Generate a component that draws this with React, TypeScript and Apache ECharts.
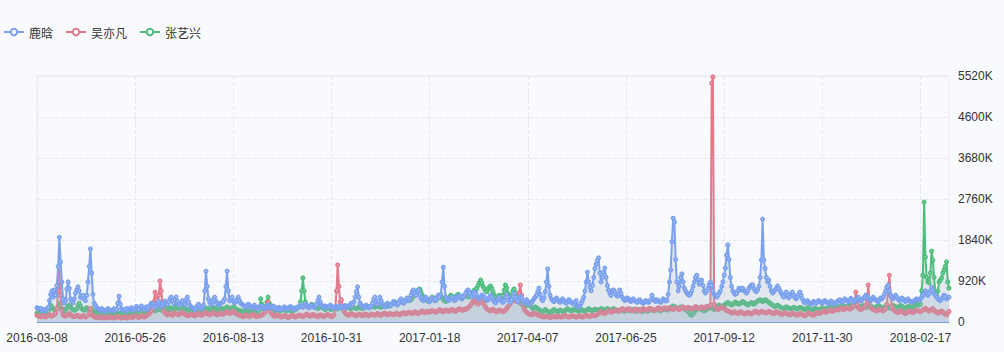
import React, { useEffect, useRef } from "react";
import * as echarts from "echarts";

// values in thousands (K)
const luhan: number[] = [
  320,300,290,310,260,280,250,270,300,330,480,620,700,560,720,
  600,820,1250,1900,1350,900,520,430,480,740,900,760,520,470,430,
  520,650,720,790,700,560,540,600,520,480,600,900,1250,1640,1100,
  620,420,380,330,300,280,260,300,280,250,240,260,300,280,260,
  250,270,300,260,280,420,580,400,300,270,250,280,300,260,290,
  300,320,280,260,300,350,310,280,330,360,300,280,310,340,290,
  330,380,420,400,360,330,380,420,460,400,350,380,430,470,420,
  400,450,520,560,480,420,500,560,470,400,380,430,480,420,390,
  500,560,450,380,340,320,300,280,320,360,400,340,300,330,380,
  700,1140,800,520,450,400,440,500,560,470,420,380,400,420,440,
  460,520,800,1140,700,480,520,560,470,430,450,500,560,480,420,
  400,380,350,330,360,400,380,340,320,350,380,330,300,320,350,
  340,360,330,300,320,350,380,340,310,330,360,340,300,280,320,
  330,300,280,310,340,320,290,300,330,350,320,300,280,310,330,
  320,350,380,360,330,350,400,370,340,320,360,380,350,330,360,
  400,480,560,450,380,350,330,360,340,320,350,380,360,330,310,
  330,350,320,340,360,330,310,340,370,350,330,360,390,420,380,
  450,560,680,790,560,420,380,350,330,360,380,350,320,340,360,
  420,500,560,450,400,460,560,480,400,360,340,380,420,390,360,
  380,420,460,440,400,380,420,480,520,460,420,450,500,540,480,
  520,600,680,720,650,600,680,720,620,540,500,480,520,560,520,
  480,460,500,540,520,480,500,560,600,560,620,900,1230,800,560,
  520,480,500,540,560,520,480,500,540,580,600,560,520,560,600,
  640,700,720,660,600,560,620,680,640,580,540,520,560,600,580,
  560,520,480,500,540,600,560,500,460,430,480,520,560,500,460,
  440,480,560,620,560,480,440,500,580,640,560,500,460,520,580,
  540,480,420,460,500,460,420,400,440,480,520,560,600,680,760,
  620,520,480,540,680,900,1190,800,600,520,480,460,500,540,500,
  460,440,480,520,480,440,420,460,500,480,440,420,400,440,480,
  360,340,380,420,480,560,700,900,1120,900,780,700,820,1000,1200,
  1300,1380,1440,1100,900,1000,1120,1210,1000,820,720,650,600,700,720,
  680,620,580,620,720,640,560,520,480,500,540,520,480,460,500,
  520,480,460,440,480,500,460,440,420,450,480,460,440,470,500,
  600,520,480,460,500,480,460,440,480,520,500,470,480,620,900,
  1170,1800,2330,2250,1400,900,700,800,1000,1080,900,760,700,650,620,
  600,640,700,800,900,1000,1050,950,850,880,940,820,700,650,700,
  760,850,900,820,700,620,580,560,600,650,700,800,900,1050,1210,
  1500,1730,1400,1000,800,700,650,620,640,700,760,720,740,760,700,
  680,650,700,760,800,830,830,750,700,680,720,800,1000,1390,2310,
  1390,1200,1000,900,940,800,700,650,680,720,760,810,760,700,650,
  600,560,620,670,600,540,580,640,670,600,550,520,560,620,670,
  600,520,460,430,450,480,440,420,400,430,460,440,420,450,480,
  460,440,420,450,480,460,430,410,440,470,450,420,400,430,460,
  480,500,460,440,470,520,500,480,460,490,530,500,470,450,480,
  520,560,500,470,490,530,560,600,580,540,500,480,520,560,520,
  500,480,460,500,540,520,560,620,700,780,830,700,600,560,520,
  560,600,560,520,480,500,540,520,480,460,500,520,480,460,440,
  460,480,500,520,500,480,520,560,600,650,700,650,600,640,700,
  780,720,640,600,560,520,500,480,520,560,600,580,520,540,560,
];

const wuyifan: number[] = [
  150,140,130,120,140,130,120,110,130,150,160,140,130,150,170,
  200,300,700,1190,600,250,160,140,130,150,170,190,160,140,130,
  120,130,150,140,120,110,130,140,120,110,130,150,200,300,180,
  140,120,110,100,110,120,100,90,110,120,100,90,100,110,120,
  110,100,90,100,120,130,110,100,90,100,110,120,100,90,110,
  120,110,100,120,140,130,110,100,120,150,130,110,120,140,160,
  180,200,240,300,450,670,500,400,600,920,700,400,250,200,180,
  160,180,200,170,150,180,210,190,170,160,180,200,220,190,170,
  160,150,140,160,180,170,150,140,160,180,200,170,150,160,180,
  200,220,190,170,160,180,200,220,190,170,160,180,200,190,170,
  180,200,220,240,210,190,200,220,240,210,190,170,160,150,140,
  130,120,140,160,150,130,120,140,160,180,150,130,120,140,150,
  140,160,180,200,240,300,450,350,220,180,150,130,140,160,150,
  140,120,110,130,150,140,120,100,110,130,150,140,120,110,130,
  140,160,150,130,120,140,160,180,160,140,130,150,170,160,140,
  130,120,140,160,150,130,120,140,160,170,150,130,120,140,160,
  300,700,1280,800,450,500,350,250,200,180,160,150,170,190,170,
  160,150,140,160,180,170,150,140,160,180,170,150,140,160,180,
  170,160,150,170,190,180,160,150,170,190,200,180,160,170,190,
  180,170,160,180,200,190,170,160,180,200,210,190,180,200,220,
  210,200,190,210,230,220,200,190,210,230,250,230,210,220,240,
  230,220,240,260,250,230,220,240,260,280,260,240,230,250,270,
  260,250,240,260,280,270,250,240,260,280,300,280,260,270,290,
  280,300,320,350,380,420,460,490,460,420,400,440,480,460,420,
  380,340,300,280,260,250,270,290,260,240,230,250,270,260,240,
  230,250,270,300,340,380,420,460,500,520,480,460,520,650,830,
  600,400,300,250,220,200,180,170,160,180,200,190,170,160,150,
  140,130,120,110,120,130,120,110,100,110,120,130,120,110,120,
  130,120,110,120,140,150,130,120,110,120,130,140,130,120,110,
  120,130,140,120,110,120,130,150,140,130,120,140,160,150,140,
  150,170,190,210,230,220,200,190,210,230,250,240,220,230,250,
  260,270,250,240,260,280,300,290,270,260,280,300,290,270,260,
  250,270,290,280,260,250,270,290,300,280,260,270,290,310,300,
  290,270,260,280,300,320,310,290,280,300,320,310,290,300,320,
  300,290,280,300,320,310,290,280,300,320,340,320,300,310,330,
  320,300,290,310,330,350,330,310,300,320,340,320,310,330,350,
  340,360,380,5360,5500,400,320,300,280,300,320,340,320,300,280,
  260,250,240,220,200,210,230,220,200,190,210,230,220,200,190,
  180,200,220,210,190,180,200,220,240,230,210,200,220,240,230,
  220,210,200,220,240,230,210,200,190,210,230,220,200,190,180,
  170,190,210,200,180,170,160,180,200,190,170,160,150,170,190,
  180,170,150,140,160,180,200,190,170,160,150,170,190,210,200,
  190,210,230,250,240,220,230,250,270,260,240,250,270,290,280,
  270,290,310,300,280,290,310,330,310,290,300,330,360,450,670,
  400,320,300,280,300,320,340,380,500,830,450,330,300,280,270,
  260,250,270,290,280,260,250,270,300,400,700,1050,600,350,280,
  260,240,220,210,230,250,240,220,200,190,210,230,250,240,220,
  210,230,250,270,260,240,230,250,270,290,310,280,260,250,270,
  280,300,260,240,220,200,210,230,250,220,200,180,160,200,240,
];

const zhangyixing: number[] = [
  200,220,210,190,200,230,250,220,210,240,300,380,340,300,280,
  260,300,350,420,380,300,260,240,280,320,360,380,340,300,280,
  260,280,300,380,420,360,300,280,260,300,320,280,260,280,300,
  260,240,220,200,210,230,220,200,190,210,200,190,200,220,210,
  200,190,210,230,220,200,190,180,200,220,210,190,180,200,220,
  210,200,220,240,230,210,200,220,250,270,240,220,230,250,240,
  230,250,280,300,270,250,260,290,310,280,260,270,300,320,290,
  280,300,320,310,290,300,330,350,320,300,310,340,360,330,300,
  290,270,260,280,300,290,270,260,280,300,320,300,280,270,260,
  270,290,310,300,280,290,310,330,310,290,280,300,320,310,290,
  280,300,320,340,310,290,300,320,340,320,300,280,270,260,250,
  240,230,250,270,260,240,230,250,270,290,260,240,230,250,270,
  520,400,300,280,350,450,560,420,320,280,260,250,270,290,280,
  260,250,270,290,280,260,250,270,280,260,250,240,260,280,300,
  320,350,450,700,990,700,450,380,340,320,350,400,380,350,330,
  320,300,330,360,340,320,300,280,300,320,310,290,280,300,320,
  310,300,290,310,330,320,300,290,310,330,340,320,300,310,330,
  320,310,300,320,340,330,310,300,320,340,350,330,320,340,360,
  350,340,330,350,370,360,340,330,350,370,380,360,350,370,390,
  380,400,420,450,430,410,430,460,490,470,450,470,500,520,500,
  480,500,540,580,620,650,700,720,740,680,600,560,520,500,480,
  460,480,520,560,540,500,480,520,560,600,580,540,500,480,460,
  480,520,560,600,580,540,520,560,600,620,580,540,520,560,600,
  620,580,560,600,640,620,680,720,700,760,820,880,940,880,800,
  760,700,680,740,780,810,760,680,600,560,520,560,600,580,540,
  600,720,830,760,640,560,520,600,700,740,660,560,500,460,420,
  400,380,360,340,380,420,400,360,330,300,320,340,320,300,280,
  260,240,220,250,280,260,240,220,200,230,260,280,260,240,230,
  250,270,260,240,230,250,280,300,280,260,250,270,290,280,260,
  250,240,260,280,270,250,240,260,280,300,280,260,250,270,290,
  280,270,260,280,300,290,270,260,280,300,290,270,260,280,300,
  290,270,250,240,260,280,270,250,240,260,280,270,250,260,280,
  270,250,240,260,280,270,250,230,250,270,260,240,250,270,290,
  280,260,250,270,290,280,260,250,270,290,300,280,270,290,310,
  320,340,360,350,330,310,300,320,340,330,310,300,280,260,240,
  200,160,150,180,220,260,280,300,320,300,280,260,250,270,290,
  300,320,340,320,300,280,300,330,360,380,360,340,360,380,400,
  420,440,420,400,380,400,420,450,430,410,400,420,440,460,440,
  420,400,380,400,420,440,420,400,420,450,470,490,500,480,460,
  480,500,490,460,440,420,400,380,360,340,360,380,360,340,320,
  310,300,320,340,330,310,300,290,310,330,320,300,290,310,330,
  320,300,290,280,300,320,310,290,280,270,290,310,300,280,270,
  280,300,320,310,290,280,300,320,340,330,310,300,320,340,350,
  340,330,350,370,360,340,330,350,370,390,370,350,340,360,380,
  370,360,340,330,350,370,360,340,330,350,370,360,340,330,320,
  330,350,370,360,340,320,310,330,350,340,320,310,330,350,370,
  360,340,320,330,350,370,360,340,320,310,330,350,340,320,330,
  340,360,380,400,420,380,400,700,1050,2690,1460,1000,900,880,1100,
  1590,1390,1000,650,600,700,900,940,990,1100,1170,1250,1350,900,760,
];

const seriesNames = ["鹿晗", "吴亦凡", "张艺兴"];
const seriesColors = ["#7ba1ee", "#e27a8c", "#4dbd7b"];
const startDate = "2016-03-08";
const yMax = 5520;
const yInterval = 920;

function buildDates(start: string, n: number): string[] {
  const [y, m, d] = start.split("-").map(Number);
  const base = Date.UTC(y, m - 1, d);
  const out: string[] = [];
  for (let i = 0; i < n; i++) {
    const dt = new Date(base + i * 86400000);
    const mm = String(dt.getUTCMonth() + 1).padStart(2, "0");
    const dd = String(dt.getUTCDate()).padStart(2, "0");
    out.push(`${dt.getUTCFullYear()}-${mm}-${dd}`);
  }
  return out;
}

export default function App() {
  const ref = useRef<HTMLDivElement>(null);
  useEffect(() => {
    document.body.style.margin = "0";
    const chart = echarts.init(ref.current!, undefined, { renderer: "svg" });
    const n = Math.max(luhan.length, wuyifan.length, zhangyixing.length);
    const dates = buildDates(startDate, n);
    const data = [luhan, wuyifan, zhangyixing];
    chart.setOption({
      animation: false,
      backgroundColor: "#f9fafd",
      textStyle: { fontFamily: "'Liberation Sans', 'Noto Sans CJK SC', sans-serif" },
      legend: {
        left: -2,
        top: 21,
        itemWidth: 20,
        itemHeight: 8,
        itemGap: 12,
        textStyle: { fontSize: 12, color: "#333", fontFamily: "'Noto Sans CJK SC', sans-serif" },
        data: seriesNames,
      },
      grid: { left: 37, right: 55, top: 76, bottom: 30, show: true, borderColor: "#eceef3", borderWidth: 1 },
      xAxis: {
        type: "category",
        boundaryGap: false,
        data: dates,
        axisLine: { lineStyle: { color: "#7ba1ee", width: 1 } },
        axisTick: { show: false },
        axisLabel: { interval: 78, color: "#333", fontSize: 12, margin: 10 },
        splitLine: { show: true, interval: 78, lineStyle: { type: "dashed", color: "#e6e8ee" } },
      },
      yAxis: {
        type: "value",
        position: "right",
        min: 0,
        max: yMax,
        interval: yInterval,
        axisLine: { show: false },
        axisTick: { show: false },
        axisLabel: {
          color: "#333",
          fontSize: 12,
          margin: 9,
          formatter: (v: number) => (v === 0 ? "0" : `${v}K`),
        },
        splitLine: { lineStyle: { type: "dashed", color: "#e6e8ee" } },
      },
      series: seriesNames.map((name, i) => ({
        name,
        type: "line",
        data: data[i],
        symbol: "emptyCircle",
        symbolSize: 3,
        showSymbol: true,
        showAllSymbol: true,
        lineStyle: { width: 2, color: seriesColors[i] },
        itemStyle: { color: seriesColors[i], borderWidth: 1.5 },
        areaStyle: { color: "rgba(160,175,196,0.34)" },
        z: 3 - i,
      })),
    });
    return () => chart.dispose();
  }, []);
  return <div ref={ref} style={{ width: 1004, height: 352 }} />;
}
